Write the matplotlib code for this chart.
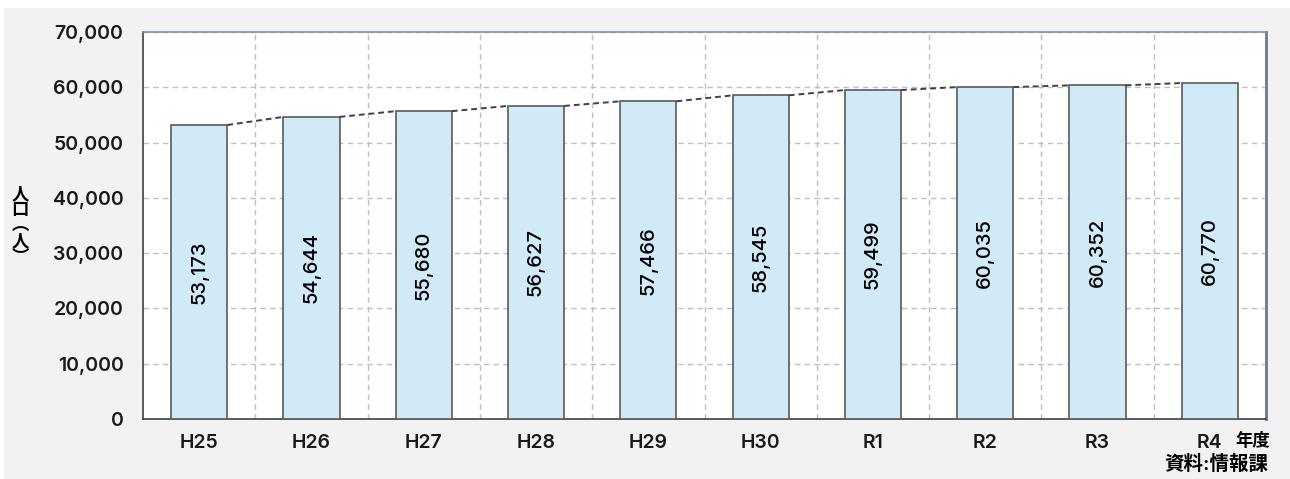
import numpy as np
import matplotlib
matplotlib.use('Agg')
from matplotlib import pyplot as plt
from matplotlib.patches import Rectangle

plt.rcParams['font.family'] = ['Inter', 'Noto Sans CJK JP', 'DejaVu Sans']

years = ['H25', 'H26', 'H27', 'H28', 'H29', 'H30', 'R1', 'R2', 'R3', 'R4']
population = [53173, 54644, 55680, 56627, 57466, 58545, 59499, 60035, 60352, 60770]
yticks = [0, 10000, 20000, 30000, 40000, 50000, 60000, 70000]

fig = plt.figure(figsize=(12.9, 4.79), dpi=100)
fig.patch.set_facecolor('white')
fig.patches.append(Rectangle((4 / 1290, 0), 1, (479 - 8) / 479, transform=fig.transFigure,
                             facecolor='#f2f2f2', edgecolor='none', zorder=-10))

ax = fig.add_axes([143 / 1290, 60 / 479, (1266 - 143) / 1290, (419 - 32) / 479])
ax.set_facecolor('white')

x = np.arange(len(years))
bw = 0.5
ax.bar(x, population, width=bw, color='#d1eaf7', edgecolor='#595959', linewidth=1.2, zorder=3)

# series lines between bar tops
for i in range(len(x) - 1):
    ax.plot([x[i] + bw / 2, x[i + 1] - bw / 2], [population[i], population[i + 1]],
            color='#404040', linestyle=(0, (3, 2)), linewidth=1.4, zorder=4)

for i, v in enumerate(population):
    ax.text(x[i], v / 2, f'{v:,}', rotation=90, ha='center', va='center',
            fontsize=14.5, fontweight='medium', color='black', zorder=5)

ax.set_xlim(-0.5, len(years) - 0.5)
ax.set_ylim(0, 70000)
ax.set_yticks(yticks)
ax.set_yticklabels([f'{t:,}' for t in yticks], fontsize=14, fontweight='semibold', color='#1a1a1a')
ax.set_xticks(x)
ax.set_xticklabels(years, fontsize=14, fontweight='semibold', color='#1a1a1a')
ax.tick_params(axis='y', length=0, pad=14)
ax.tick_params(axis='x', length=0, pad=11)

for yv in yticks[1:]:
    ax.axhline(yv, color='#bfbfbf', linestyle=(0, (4, 3)), linewidth=1, zorder=1)
for xv in np.arange(0.5, len(years) - 0.5, 1):
    ax.axvline(xv, color='#bfbfbf', linestyle=(0, (4, 3)), linewidth=1, zorder=1)

for s in ['left', 'bottom']:
    ax.spines[s].set_color('#404040')
    ax.spines[s].set_linewidth(1.2)
ax.spines['right'].set_color('#6b7a90')
ax.spines['right'].set_linewidth(2)
ax.spines['top'].set_color('#8090a8')
ax.spines['top'].set_linewidth(1.2)

fig.text(20 / 1290, 1 - 226 / 479, '人\n口\n︵\n人\n︶', ha='center', va='center',
         fontsize=12.5, fontweight='bold', linespacing=0.9)
fig.text(1270 / 1290, 1 - 441 / 479, '年度', ha='right', va='center', fontsize=12.5, fontweight='bold')
fig.text(1268 / 1290, 1 - 464 / 479, '資料:情報課', ha='right', va='center', fontsize=14, fontweight='bold')

fig.savefig('out.png', dpi=100, facecolor=fig.get_facecolor())
